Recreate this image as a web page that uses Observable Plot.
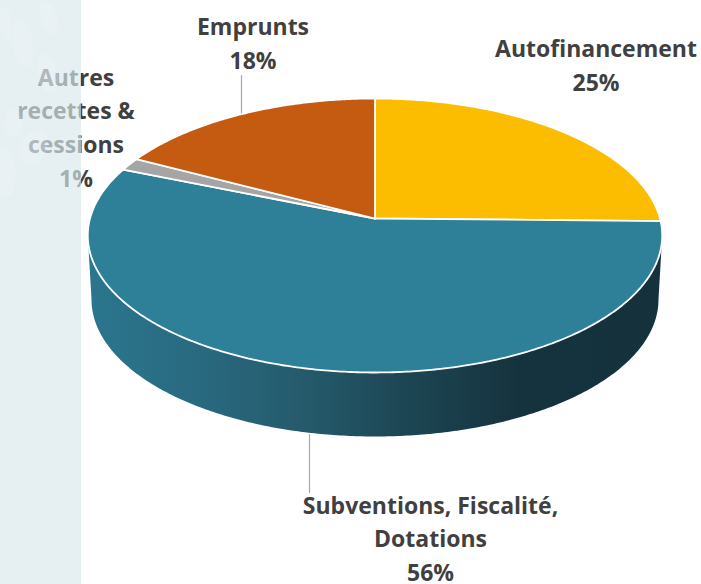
<!DOCTYPE html>
<html><head><meta charset="utf-8">
<script src="https://cdn.jsdelivr.net/npm/d3@7"></script>
<script src="https://cdn.jsdelivr.net/npm/@observablehq/plot@0.6"></script>
<style>html,body{margin:0;padding:0;background:#fff}svg{display:block}</style>
</head><body><div id="c"></div>
<script>
const categories = ["Autofinancement","Subventions, Fiscalité,\nDotations","Autres\nrecettes &\ncessions","Emprunts"];
const shares = [25.3, 55.9, 1.5, 17.3];
const percentLabels = ["25%","56%","1%","18%"];
const colors = ["#fcbc00","#2e8099","#a5a5a5","#c55a11"];

// perspective of the tilted disc (unit circle -> unit plot coordinates)
const k = -0.124;
const project = (a, sx = 1, dy = 0) => {
  const u = Math.sin(a), v = -Math.cos(a), w = 1 + k * v;
  return {x: sx * u / w, y: -(v / w) - dy};
};
const arc = (a0, a1, sx, dy, step = 0.01) => {
  const n = Math.max(2, Math.ceil(Math.abs(a1 - a0) / step));
  return d3.range(n + 1).map(i => project(a0 + (a1 - a0) * i / n, sx, dy));
};
const pie = d3.pie().sort(null).startAngle(0).endAngle(2 * Math.PI)(shares);
const scaleX = 285, scaleY = 134.9, cx = 374.5, cy = 218;
const wedge = p => [{x: 0, y: 0}, ...arc(p.startAngle, p.endAngle), {x: 0, y: 0}];

const frontA = Math.acos(-0.124);
const sideDepth = 64 / scaleY;
const side = [...arc(frontA, 2 * Math.PI - frontA), ...arc(2 * Math.PI - frontA, frontA, 0.987, sideDepth)];

const px = X => (X - cx) / scaleX;
const py = Y => -(Y - cy) / scaleY;

// decoration of the pale panel
const ovals = [[48,17,8,17,0.3],[22,43,10,23,0.15],[5,23,6,17,0.1],[47,73,10,20,0.2],[13,123,9,14,0],[33,147,13,18,-0.5],[5,173,10,25,0]];
const ovalPoints = ([X,Y,a,b,r]) => d3.range(0, 6.3, 0.2).map(t => {
  const ex = a * Math.cos(t), ey = b * Math.sin(t);
  return {x: px(X + ex * Math.cos(r) + ey * Math.sin(r)), y: py(Y - ex * Math.sin(r) + ey * Math.cos(r))};
});

const defs = () => {
  const ns = "http://www.w3.org/2000/svg";
  const d = document.createElementNS(ns, "defs");
  const g = document.createElementNS(ns, "linearGradient");
  g.setAttribute("id", "rim");
  [[0,"#2b768e"],[0.2,"#29697f"],[0.4,"#245869"],[0.55,"#1d4654"],[0.75,"#15333e"],[1,"#14313c"]].forEach(([o,c]) => {
    const s = document.createElementNS(ns, "stop");
    s.setAttribute("offset", o); s.setAttribute("stop-color", c); g.appendChild(s);
  });
  d.appendChild(g);
  return d;
};

const labelSpots = [[595.5,66],[430,539],[75.5,128],[252.5,43.5]];
const labelMarks = categories.map((c, i) => Plot.text([c + "\n" + percentLabels[i]], {
  x: px(labelSpots[i][0]), y: py(labelSpots[i][1] - 3),
  text: d => d, fontFamily: "Open Sans", fontWeight: 700, fontSize: 23, lineHeight: 1.47,
  fill: "#404040", textAnchor: "middle", lineAnchor: "middle"
}));

const leaders = [[241,75,115],[309,434,492]].map(([X,a,b]) => Plot.line([{x:px(X),y:py(a)},{x:px(X),y:py(b)}], {x:"x",y:"y",stroke:"#a6a6a6",strokeWidth:1.2}));

const plot = Plot.plot({
  width: 701, height: 584, margin: 0,
  x: {domain: [px(0), px(701)], range: [0, 701], axis: null},
  y: {domain: [py(584), py(0)], range: [584, 0], axis: null},
  style: {background: "transparent"},
  marks: [
    defs,
    ...leaders,
    Plot.line(side, {x:"x", y:"y", fill:"url(#rim)", stroke:"none"}),
    ...pie.map((p, i) => Plot.line(wedge(p), {x:"x", y:"y", fill: colors[i], stroke:"#fff", strokeWidth:1.8, strokeLinejoin:"round"})),
    ...labelMarks,
    Plot.rect([0], {x1: px(0), x2: px(81), y1: py(0), y2: py(584), fill:"rgb(217,232,237)", fillOpacity:0.66}),
    ...ovals.map(o => Plot.line(ovalPoints(o), {x:"x", y:"y", fill:"#fff", opacity:0.12, stroke:"none"}))
  ]
});
document.getElementById("c").appendChild(plot);
</script></body></html>
